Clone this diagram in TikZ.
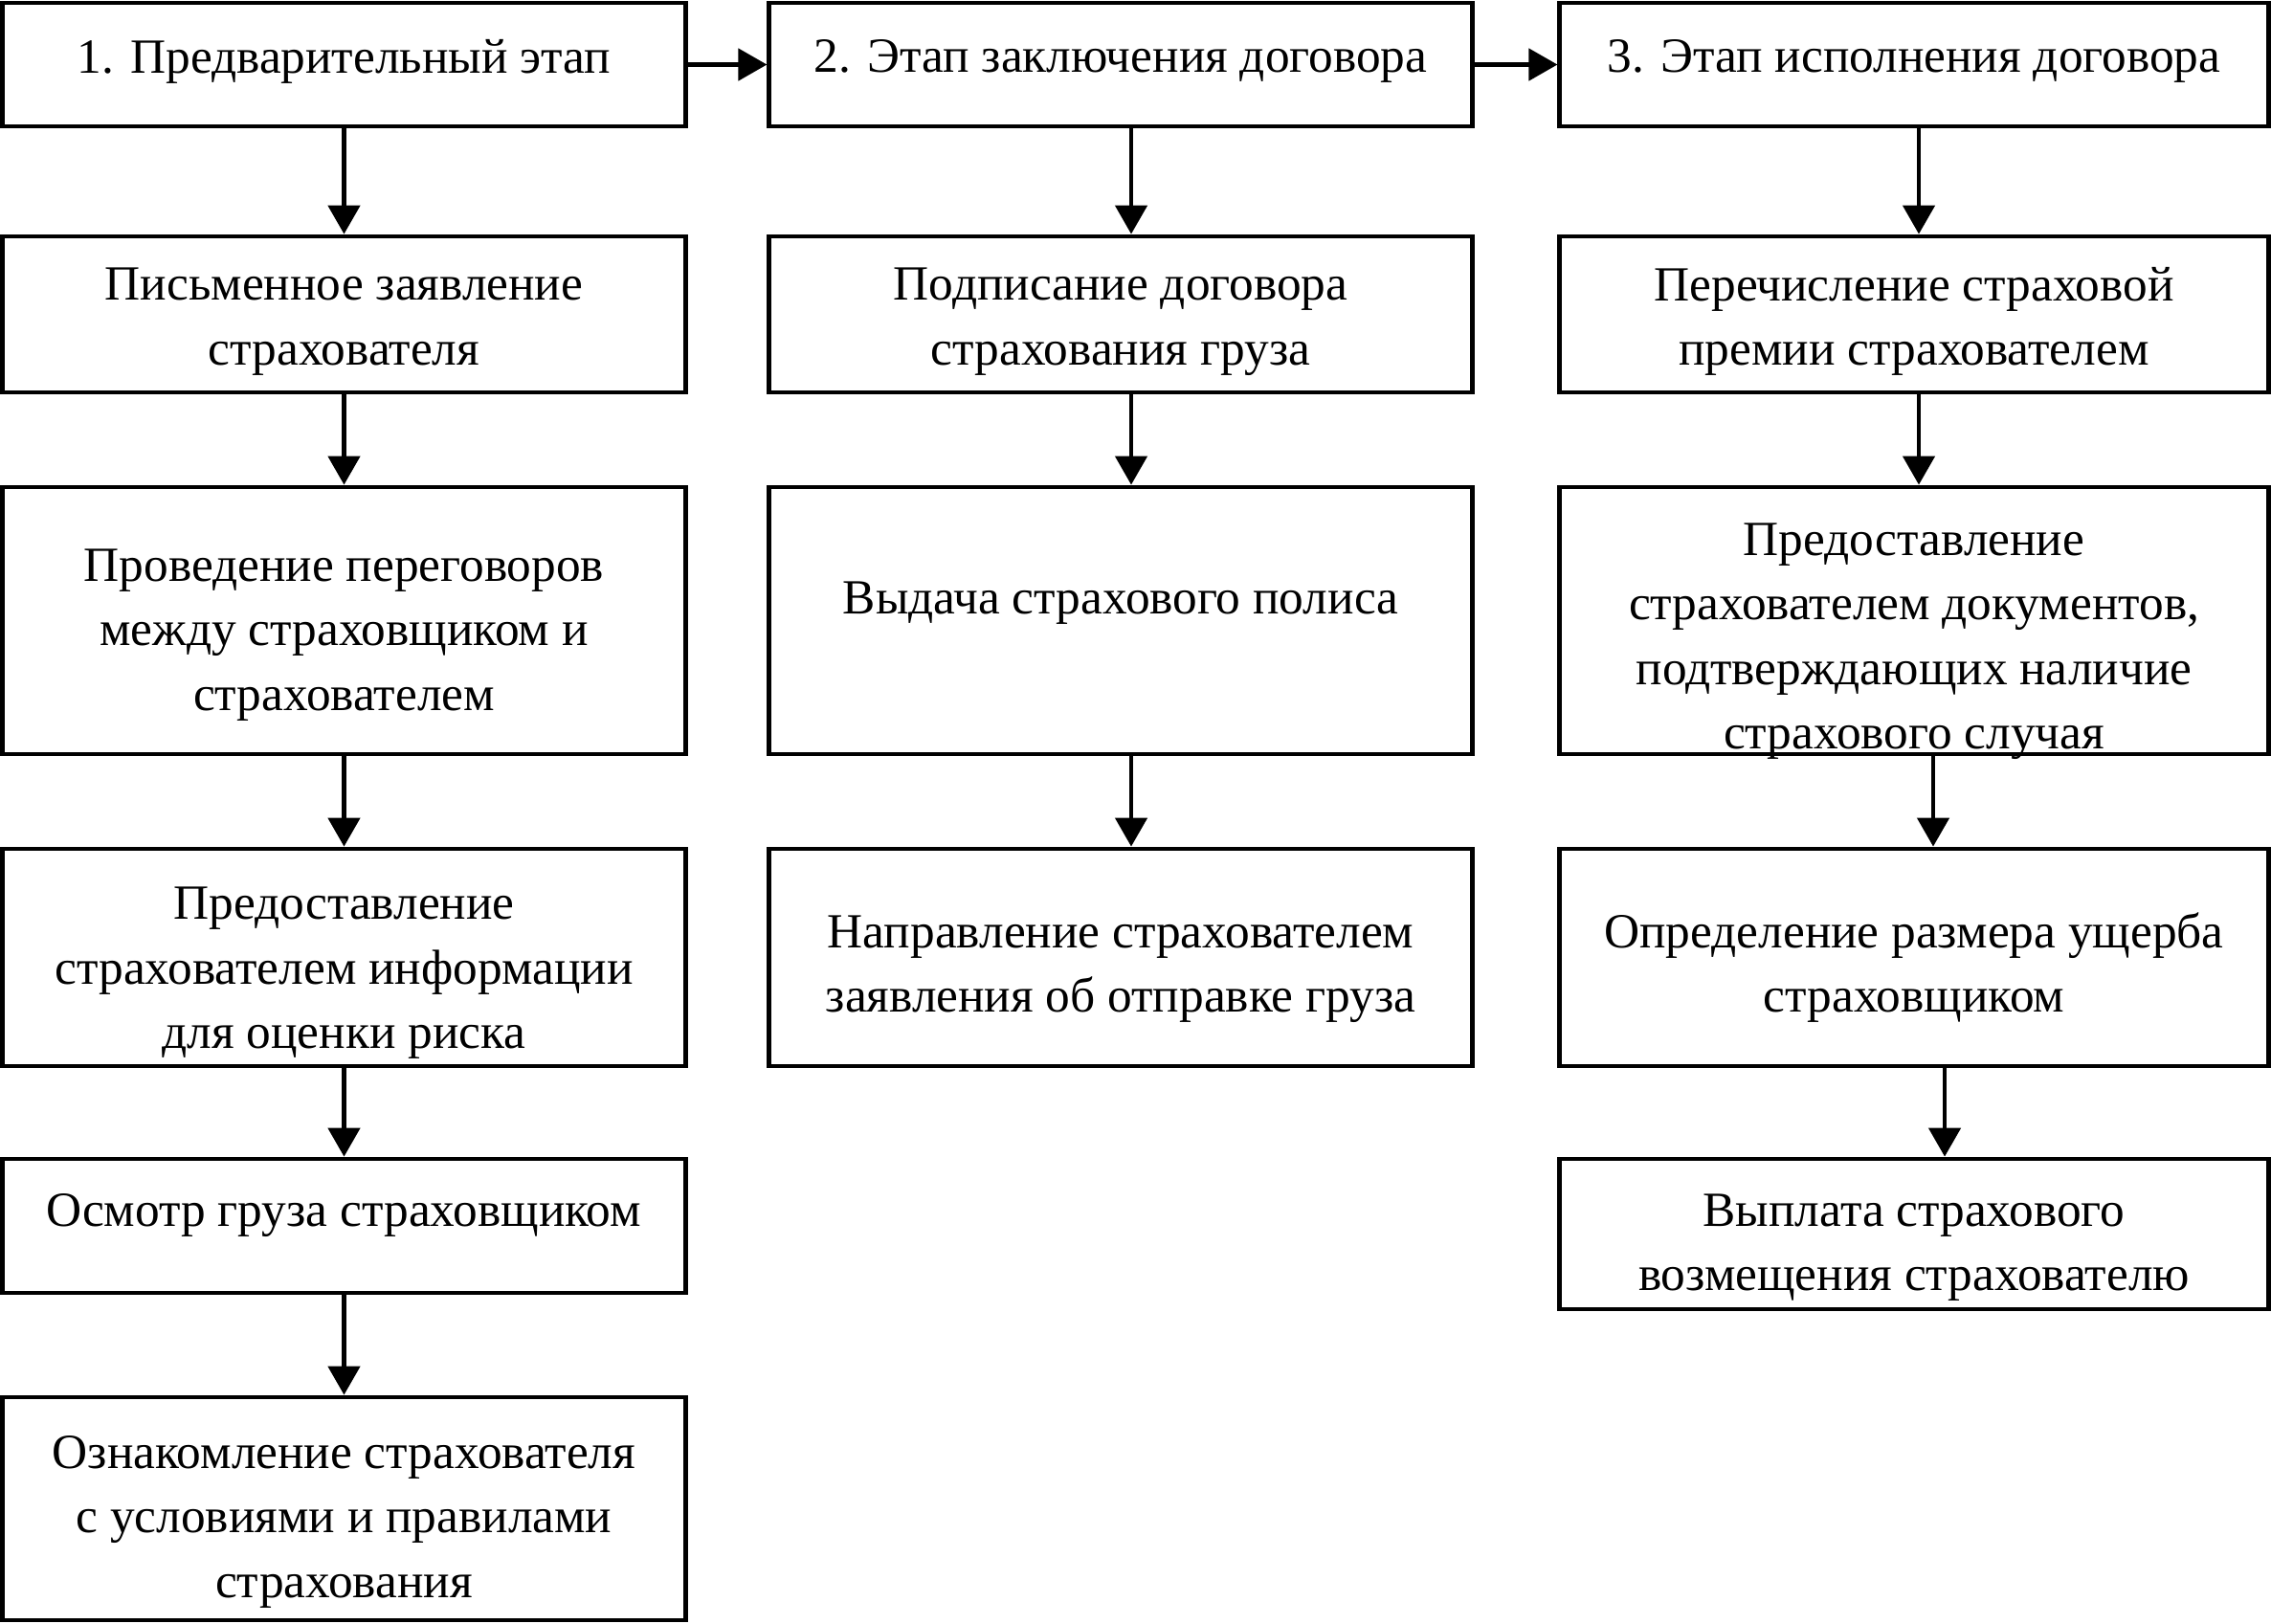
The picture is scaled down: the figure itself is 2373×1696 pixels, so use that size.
\documentclass[tikz,border=0pt]{standalone}
\usepackage{fontspec}
\setmainfont{Liberation Serif}
\usetikzlibrary{arrows.meta}

\tikzset{
	box/.style={draw, line width=0.047cm, inner sep=0pt},
	txt/.style={inner sep=0pt, align=center, font=\fontsize{14.6}{19.2}\selectfont},
	colA/.style={box, minimum width=7.13cm},
	colB/.style={box, minimum width=7.34cm},
	colC/.style={box, minimum width=7.40cm},
	arrow/.style={-{Triangle[length=0.3cm, width=0.33cm]}, line width=0.047cm}
}

\begin{document}
\begin{tikzpicture}[x=0.01cm, y=-0.01cm]
\useasboundingbox (0,0) rectangle (2373,1696);

% first column
\node (a1) at (359.5,67.5) [colA, minimum height=1.29cm] {};
\node (a2) at (359.5,328.5) [colA, minimum height=1.63cm] {};
\node (a3) at (359.5,648.5) [colA, minimum height=2.79cm] {};
\node (a4) at (359.5,1000.5) [colA, minimum height=2.27cm] {};
\node (a5) at (359.5,1281) [colA, minimum height=1.40cm] {};
\node (a6) at (359.5,1576.5) [colA, minimum height=2.33cm] {};

\node (a1t) at (359.5,64) [txt] {1. Предварительный этап};
\node (a2t) at (359.5,336) [txt] {Письменное заявление\\страхователя};
\node (a3t) at (359.5,663.5) [txt] {Проведение переговоров\\между страховщиком и\\страхователем};
\node (a4t) at (359.5,1017) [txt] {Предоставление\\страхователем информации\\для оценки риска};
\node (a5t) at (359.5,1270) [txt] {Осмотр груза страховщиком};
\node (a6t) at (359.5,1590) [txt] {Ознакомление страхователя\\с условиями и правилами\\страхования};

% second column
\node (b1) at (1171,67.5) [colB, minimum height=1.29cm] {};
\node (b2) at (1171,328.5) [colB, minimum height=1.63cm] {};
\node (b3) at (1171,648.5) [colB, minimum height=2.79cm] {};
\node (b4) at (1171,1000.5) [colB, minimum height=2.27cm] {};

\node (b1t) at (1171,64) [txt] {2. Этап заключения договора};
\node (b2t) at (1171,336) [txt] {Подписание договора\\страхования груза};
\node (b3t) at (1171,630) [txt] {Выдача страхового полиса};
\node (b4t) at (1171,1012.5) [txt] {Направление страхователем\\заявления об отправке груза};

% third column
\node (c1) at (2000,67.5) [colC, minimum height=1.29cm] {};
\node (c2) at (2000,328.5) [colC, minimum height=1.63cm] {};
\node (c3) at (2000,648.5) [colC, minimum height=2.79cm] {};
\node (c4) at (2000,1000.5) [colC, minimum height=2.27cm] {};
\node (c5) at (2000,1289.5) [colC, minimum height=1.57cm] {};

\node (c1t) at (2000,64) [txt] {3. Этап исполнения договора};
\node (c2t) at (2000,336) [txt] {Перечисление страховой\\премии страхователем};
\node (c3t) at (2000,670) [txt] {Предоставление\\страхователем документов,\\подтверждающих наличие\\страхового случая};
\node (c4t) at (2000,1011) [txt] {Определение размера ущерба\\страховщиком};
\node (c5t) at (2000,1303.5) [txt] {Выплата страхового\\возмещения страхователю};

\draw [arrow] (a1) -- (b1);
\draw [arrow] (b1) -- (c1);

\draw [arrow] (a1) -- (a2);
\draw [arrow] (a2) -- (a3);
\draw [arrow] (a3) -- (a4);
\draw [arrow] (a4) -- (a5);
\draw [arrow] (a5) -- (a6);

\draw [arrow] ([xshift=0.11cm]b1.south) -- ([xshift=0.11cm]b2.north);
\draw [arrow] ([xshift=0.11cm]b2.south) -- ([xshift=0.11cm]b3.north);
\draw [arrow] ([xshift=0.11cm]b3.south) -- ([xshift=0.11cm]b4.north);

\draw [arrow] ([xshift=0.05cm]c1.south) -- ([xshift=0.05cm]c2.north);
\draw [arrow] ([xshift=0.05cm]c2.south) -- ([xshift=0.05cm]c3.north);
\draw [arrow] ([xshift=0.20cm]c3.south) -- ([xshift=0.20cm]c4.north);
\draw [arrow] ([xshift=0.32cm]c4.south) -- ([xshift=0.32cm]c5.north);
\end{tikzpicture}
\end{document}
